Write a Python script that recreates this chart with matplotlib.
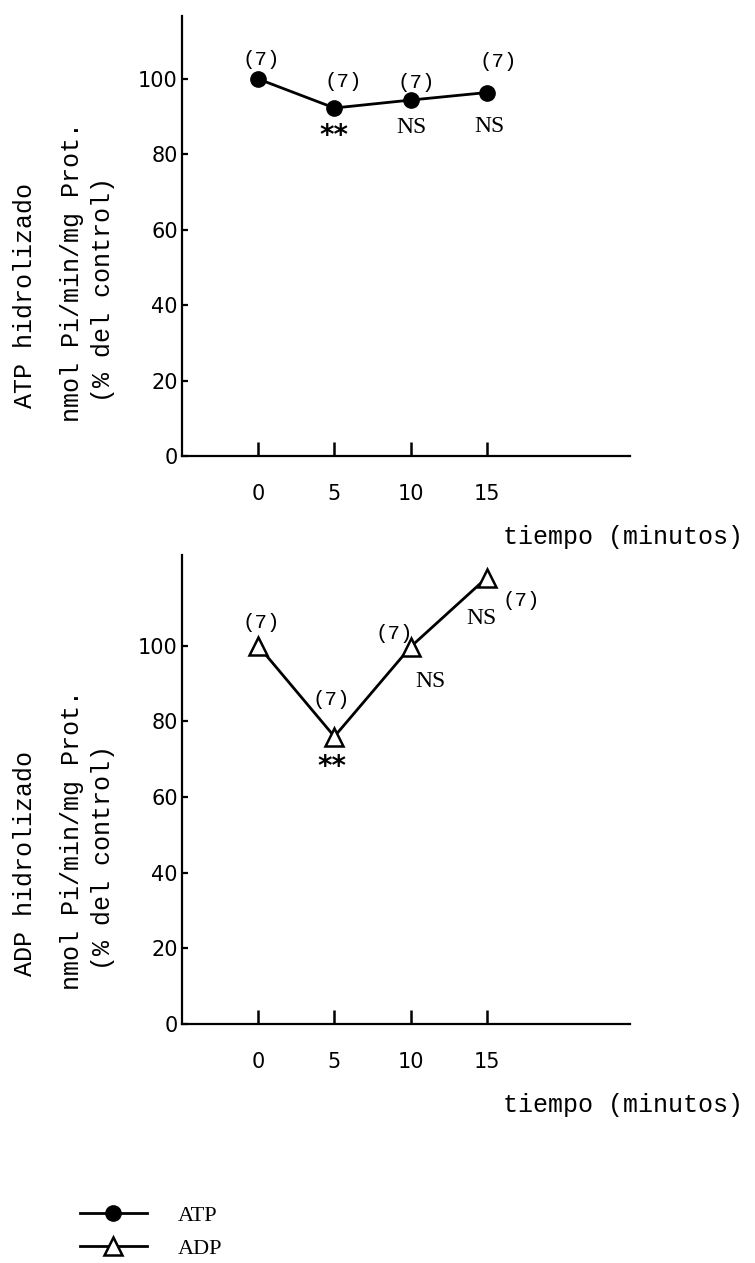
import matplotlib
matplotlib.use("Agg")
import matplotlib.pyplot as plt

# tiempo (minutos)
tiempo = [0, 5, 10, 15]
# % del control
atp = [100, 92.3, 94.4, 96.4]
adp = [100, 76, 99.7, 118]
n_atp = ["(7)", "(7)", "(7)", "(7)"]
n_adp = ["(7)", "(7)", "(7)", "(7)"]
sig_atp = ["", "**", "NS", "NS"]
sig_adp = ["", "**", "NS", "NS"]
yticks = [0, 20, 40, 60, 80, 100]

MONO = "Liberation Mono"
SERIF = "Liberation Serif"

fig = plt.figure(figsize=(7.55, 12.63), dpi=100)

W, H = 755.0, 1263.0


def make_axes(y0_px, ytop_px, ymax):
    ax = fig.add_axes([182 / W, 1 - y0_px / H, (630 - 182) / W, (y0_px - ytop_px) / H])
    ax.set_xlim(-5, 24.4)
    ax.set_ylim(0, ymax)
    for s in ["top", "right"]:
        ax.spines[s].set_visible(False)
    for s in ["left", "bottom"]:
        ax.spines[s].set_linewidth(1.6)
    ax.set_xticks(tiempo)
    ax.set_yticks(yticks)
    ax.tick_params(axis="x", direction="in", length=10, width=1.8, pad=20,
                   labelsize=15)
    ax.tick_params(axis="y", direction="in", length=4, width=1.6, pad=3,
                   labelsize=15)
    for lab in ax.get_xticklabels() + ax.get_yticklabels():
        lab.set_family("DejaVu Sans")
    ax.patch.set_alpha(0)
    return ax


# ---- panel ATP
ax1 = make_axes(456, 16, 116.7)
l_atp, = ax1.plot(tiempo, atp, color="black", lw=2, marker="o", ms=11,
                  mfc="black", mec="black", label="ATP", clip_on=False)

off_n_atp = [(2, 14), (6.5, 19), (4, 13), (8, 22)]
off_s_atp = [None, (0, -20), (0.7, -19.5), (2, -24.5)]
for x, y, t, o in zip(tiempo, atp, n_atp, off_n_atp):
    ax1.annotate(t, (x, y), xytext=o, textcoords="offset points",
                 ha="center", va="center", family=MONO, fontsize=15)
for x, y, t, o in zip(tiempo, atp, sig_atp, off_s_atp):
    if not t:
        continue
    if t == "**":
        ax1.annotate(t, (x, y), xytext=o, textcoords="offset points",
                     ha="center", va="center", family="DejaVu Sans",
                     fontweight="bold", fontsize=20)
    else:
        ax1.annotate(t, (x, y), xytext=o, textcoords="offset points",
                     ha="center", va="center", family=SERIF, fontsize=17)

# ---- panel ADP
ax2 = make_axes(1024, 555, 124)
l_adp, = ax2.plot(tiempo, adp, color="black", lw=2, marker="^", ms=13,
                  mfc="white", mec="black", mew=1.8, label="ADP",
                  clip_on=False)

off_n_adp = [(2, 16.5), (-2, 26.6), (-12, 10), (25, -16.5)]
off_s_adp = [None, (-1.5, -22), (14.4, -25), (-3.6, -29.5)]
for x, y, t, o in zip(tiempo, adp, n_adp, off_n_adp):
    ax2.annotate(t, (x, y), xytext=o, textcoords="offset points",
                 ha="center", va="center", family=MONO, fontsize=15)
for x, y, t, o in zip(tiempo, adp, sig_adp, off_s_adp):
    if not t:
        continue
    if t == "**":
        ax2.annotate(t, (x, y), xytext=o, textcoords="offset points",
                     ha="center", va="center", family="DejaVu Sans",
                     fontweight="bold", fontsize=20)
    else:
        ax2.annotate(t, (x, y), xytext=o, textcoords="offset points",
                     ha="center", va="center", family=SERIF, fontsize=17)

# ---- axis titles
for dy, name in [(0, "ATP"), (568, "ADP")]:
    fig.text(25 / W, 1 - (295 + dy) / H, name + " hidrolizado", rotation=90,
             ha="center", va="center", family=MONO, fontsize=18)
    fig.text(72 / W, 1 - (272 + dy) / H, "nmol Pi/min/mg Prot.", rotation=90,
             ha="center", va="center", family=MONO, fontsize=18)
    fig.text(103 / W, 1 - (289 + dy) / H, "(% del control)", rotation=90,
             ha="center", va="center", family=MONO, fontsize=18)

fig.text(503 / W, 1 - 537 / H, "tiempo (minutos)", ha="left", va="center",
         family=MONO, fontsize=18)
fig.text(503 / W, 1 - 1105 / H, "tiempo (minutos)", ha="left", va="center",
         family=MONO, fontsize=18)

fig.legend(handles=[l_atp, l_adp], loc="center left",
           bbox_to_anchor=(80 / W, 1 - 1232 / H), frameon=False,
           borderpad=0, borderaxespad=0, handlelength=3.0, handletextpad=1.4,
           labelspacing=0.55, prop={"family": SERIF, "size": 16})

fig.savefig("out.png", dpi=100)
